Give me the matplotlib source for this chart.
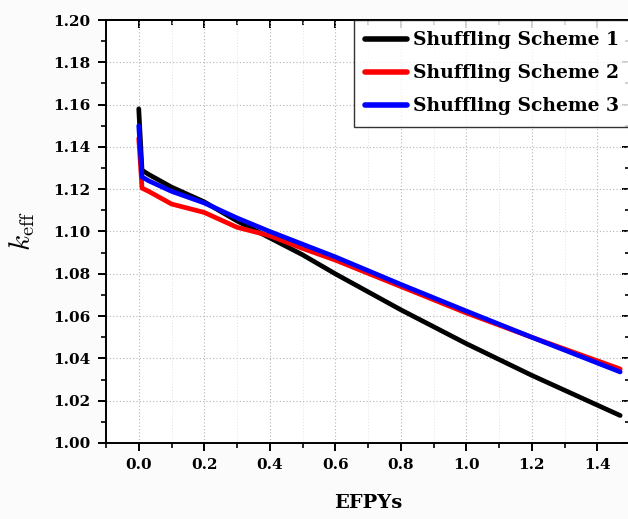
import matplotlib
matplotlib.use("Agg")
import matplotlib.pyplot as plt
from matplotlib.ticker import MultipleLocator

plt.rcParams["mathtext.fontset"] = "cm"

# Burnup time (EFPY) and k-eff for each shuffling scheme
efpy = [0.0, 0.01, 0.03, 0.1, 0.2, 0.3, 0.4, 0.5, 0.6, 0.8, 1.0, 1.2, 1.47]
k_scheme1 = [1.158, 1.129, 1.127, 1.121, 1.114, 1.105, 1.097, 1.089, 1.080, 1.063, 1.047, 1.032, 1.013]
k_scheme2 = [1.144, 1.1205, 1.119, 1.113, 1.109, 1.102, 1.098, 1.092, 1.0865, 1.074, 1.0615, 1.050, 1.035]
k_scheme3 = [1.150, 1.1258, 1.124, 1.119, 1.1135, 1.1064, 1.100, 1.094, 1.088, 1.075, 1.0624, 1.050, 1.0336]
labels = ["Shuffling Scheme 1", "Shuffling Scheme 2", "Shuffling Scheme 3"]
colors = ["black", "#ff0000", "#0000ff"]

W, H = 628, 519
fig = plt.figure(figsize=(W / 100, H / 100), dpi=100, facecolor="#fbfbfb")
ax = fig.add_axes([106 / W, 1 - 443 / H, (630 - 106) / W, (443 - 20) / H])

for k, lab, c in zip([k_scheme1, k_scheme2, k_scheme3], labels, colors):
    ax.plot(efpy, k, color=c, lw=3.4, label=lab, solid_capstyle="round")

ax.set_xlim(-0.1, 1.5)
ax.set_ylim(1.00, 1.20)
ax.xaxis.set_major_locator(MultipleLocator(0.2))
ax.xaxis.set_minor_locator(MultipleLocator(0.1))
ax.yaxis.set_major_locator(MultipleLocator(0.02))
ax.yaxis.set_minor_locator(MultipleLocator(0.01))
ax.grid(True, which="major", ls=(0, (1, 2)), color="#b5b5b5", lw=0.8)
ax.grid(True, which="minor", axis="x", ls=(0, (1, 2)), color="#e2e2e2", lw=0.7)

font = "DejaVu Serif"
ax.set_xticks([0.0, 0.2, 0.4, 0.6, 0.8, 1.0, 1.2, 1.4])
ax.set_xticklabels([f"{v:.1f}" for v in ax.get_xticks()], fontfamily=font,
                   fontweight="bold", fontsize=11)
yt = [1.00 + 0.02 * i for i in range(11)]
ax.set_yticks(yt)
ax.set_yticklabels([f"{v:.2f}" for v in yt], fontfamily=font,
                   fontweight="bold", fontsize=11)
ax.tick_params(which="major", direction="out", length=6, width=1.4, pad=5)
ax.tick_params(which="minor", direction="out", length=3.5, width=1.2)

# inward ticks on the top and right frame
top = ax.secondary_xaxis("top")
top.xaxis.set_major_locator(MultipleLocator(0.2))
top.xaxis.set_minor_locator(MultipleLocator(0.1))
top.tick_params(which="major", direction="in", length=6, width=1.4, labeltop=False)
top.tick_params(which="minor", direction="in", length=3.5, width=1.2)
right = ax.secondary_yaxis("right")
right.yaxis.set_major_locator(MultipleLocator(0.02))
right.yaxis.set_minor_locator(MultipleLocator(0.01))
right.tick_params(which="major", direction="in", length=6, width=1.4, labelright=False)
right.tick_params(which="minor", direction="in", length=3.5, width=1.2)
for s in list(ax.spines.values()) + [top.spines["top"], right.spines["right"]]:
    s.set_linewidth(1.4)

ax.set_xlabel("EFPYs", fontfamily=font, fontweight="bold", fontsize=14, labelpad=16)
ax.set_ylabel(r"$k_{\mathrm{eff}}$", fontsize=21, labelpad=12)

x0 = (354 - 106) / (630 - 106)
leg = ax.legend(loc="upper left", bbox_to_anchor=(x0, 0.0, 1.0 - x0, 1.0), mode="expand",
                prop={"family": font, "weight": "bold", "size": 13.5}, frameon=True,
                fancybox=False, edgecolor="black", borderaxespad=0, handlelength=2.2,
                handletextpad=0.35, labelspacing=0.8, borderpad=0.6)
leg.get_frame().set_linewidth(1.0)
for h in leg.get_lines():
    h.set_linewidth(4)

fig.savefig("out.png", dpi=100, facecolor=fig.get_facecolor())
